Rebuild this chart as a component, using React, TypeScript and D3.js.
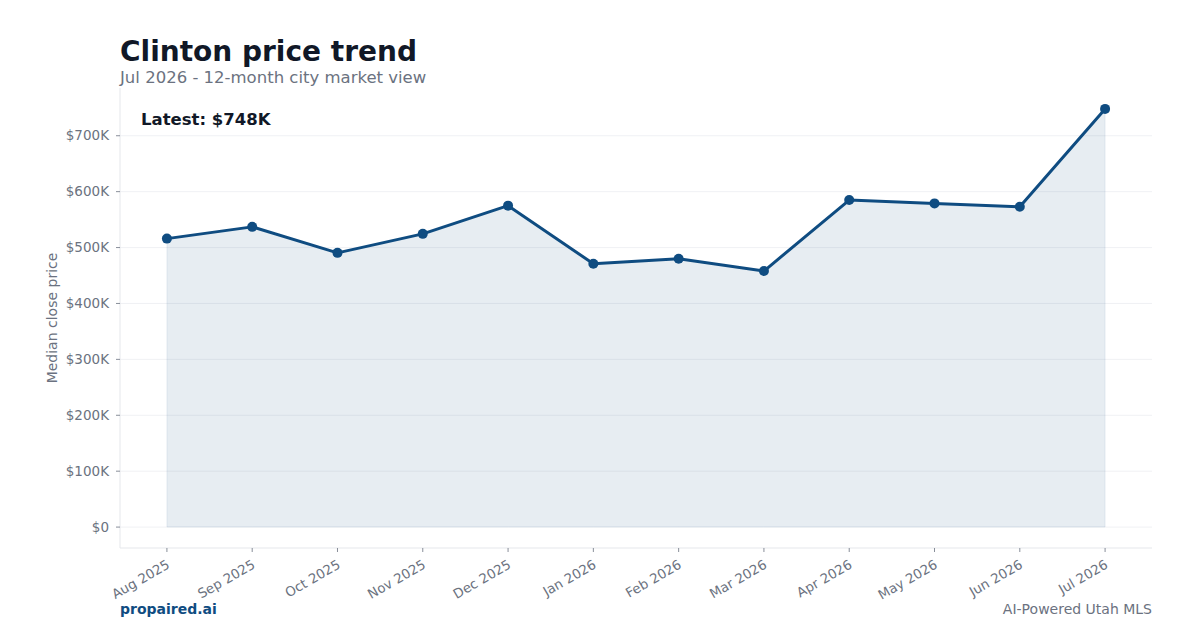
import { useEffect, useRef } from "react";
import * as d3 from "d3";

const months = [
  "Aug 2025", "Sep 2025", "Oct 2025", "Nov 2025", "Dec 2025", "Jan 2026",
  "Feb 2026", "Mar 2026", "Apr 2026", "May 2026", "Jun 2026", "Jul 2026",
];
const medianPrice = [516, 537, 490.5, 524.5, 575, 471, 480, 458, 585, 579, 573, 748]; // $K
const yTicks = [0, 100, 200, 300, 400, 500, 600, 700];

const W = 1200, H = 630;
const NAVY = "#0f4c81";
const GRAY = "#6b7280";
const FONT = "DejaVu Sans, sans-serif";

export default function App() {
  const ref = useRef<SVGSVGElement>(null);

  useEffect(() => {
    if (!ref.current) return;
    const svg = d3.select(ref.current);
    svg.selectAll("*").remove();

    const m = { left: 120, right: 1152, top: 88, bottom: 548 };
    const n = medianPrice.length;
    const x = d3.scaleLinear().domain([-0.55, n - 1 + 0.55]).range([m.left, m.right]);
    const latest = medianPrice[n - 1];
    const y = d3.scaleLinear().domain([-latest * 0.05, latest * 1.05]).range([m.bottom, m.top]);

    // grid
    svg.append("g").selectAll("line").data(yTicks).join("line")
      .attr("x1", m.left).attr("x2", m.right)
      .attr("y1", (d) => y(d)).attr("y2", (d) => y(d))
      .attr("stroke", "#eceef1").attr("stroke-width", 0.8);

    // area under line
    const area = d3.area<number>().x((_, i) => x(i)).y0(y(0)).y1((d) => y(d));
    svg.append("path").datum(medianPrice).attr("d", area)
      .attr("fill", NAVY).attr("fill-opacity", 0.1)
      .attr("stroke", NAVY).attr("stroke-opacity", 0.08).attr("stroke-width", 1);

    // spines
    svg.append("line").attr("x1", m.left).attr("x2", m.left).attr("y1", m.top).attr("y2", m.bottom)
      .attr("stroke", "#e5e7eb").attr("stroke-width", 1);
    svg.append("line").attr("x1", m.left).attr("x2", m.right).attr("y1", m.bottom).attr("y2", m.bottom)
      .attr("stroke", "#e5e7eb").attr("stroke-width", 1);

    // y ticks
    const yg = svg.append("g");
    yg.selectAll("line").data(yTicks).join("line")
      .attr("x1", m.left - 4).attr("x2", m.left)
      .attr("y1", (d) => y(d)).attr("y2", (d) => y(d))
      .attr("stroke", GRAY).attr("stroke-width", 0.8);
    yg.selectAll("text").data(yTicks).join("text")
      .attr("x", m.left - 11).attr("y", (d) => y(d)).attr("dy", "0.35em")
      .attr("text-anchor", "end").attr("fill", GRAY)
      .attr("font-family", FONT).attr("font-size", 13.5)
      .text((d) => (d === 0 ? "$0" : `$${d}K`));

    // x ticks
    const xg = svg.append("g");
    xg.selectAll("line").data(months).join("line")
      .attr("x1", (_, i) => x(i)).attr("x2", (_, i) => x(i))
      .attr("y1", m.bottom).attr("y2", m.bottom + 4)
      .attr("stroke", GRAY).attr("stroke-width", 0.8);
    xg.selectAll("text").data(months).join("text")
      .attr("transform", (_, i) => `translate(${x(i) - 1},${m.bottom + 11}) rotate(-30)`)
      .attr("dy", "0.72em")
      .attr("text-anchor", "end").attr("fill", GRAY)
      .attr("font-family", FONT).attr("font-size", 13.3)
      .text((d) => d);

    // y label
    svg.append("text")
      .attr("transform", `translate(57,${(m.top + m.bottom) / 2}) rotate(-90)`)
      .attr("text-anchor", "middle").attr("fill", GRAY)
      .attr("font-family", FONT).attr("font-size", 14)
      .text("Median close price");

    // line + markers
    const line = d3.line<number>().x((_, i) => x(i)).y((d) => y(d));
    svg.append("path").datum(medianPrice).attr("d", line)
      .attr("fill", "none").attr("stroke", NAVY).attr("stroke-width", 3)
      .attr("stroke-linejoin", "round");
    svg.append("g").selectAll("circle").data(medianPrice).join("circle")
      .attr("cx", (_, i) => x(i)).attr("cy", (d) => y(d)).attr("r", 5)
      .attr("fill", NAVY);

    // latest annotation
    svg.append("text").attr("x", 141).attr("y", 125)
      .attr("fill", "#111827").attr("font-family", FONT)
      .attr("font-size", 16.5).attr("font-weight", "bold")
      .text(`Latest: $${latest}K`);

    // titles
    svg.append("text").attr("x", 120).attr("y", 61)
      .attr("fill", "#111827").attr("font-family", FONT)
      .attr("font-size", 28).attr("font-weight", "bold")
      .text("Clinton price trend");
    svg.append("text").attr("x", 120).attr("y", 83)
      .attr("fill", GRAY).attr("font-family", FONT).attr("font-size", 16.5)
      .text("Jul 2026 - 12-month city market view");

    // footer
    svg.append("text").attr("x", 120).attr("y", 614)
      .attr("fill", NAVY).attr("font-family", FONT)
      .attr("font-size", 14).attr("font-weight", "bold")
      .text("propaired.ai");
    svg.append("text").attr("x", 1152).attr("y", 614)
      .attr("text-anchor", "end")
      .attr("fill", GRAY).attr("font-family", FONT).attr("font-size", 14)
      .text("AI-Powered Utah MLS");
  }, []);

  return (
    <svg
      ref={ref}
      width={W}
      height={H}
      viewBox={`0 0 ${W} ${H}`}
      style={{ position: "absolute", left: 0, top: 0, background: "#fff" }}
    />
  );
}
